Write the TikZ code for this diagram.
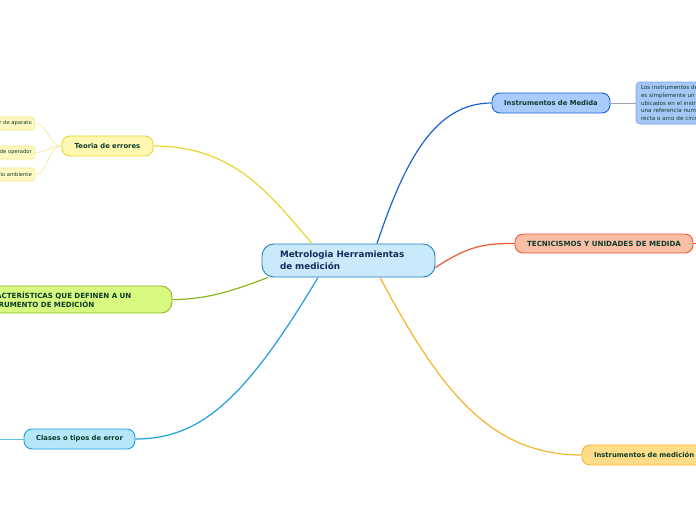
\documentclass[tikz,border=0pt]{standalone}
\usepackage{fontspec}
\setmainfont{DejaVu Sans}
\definecolor{txt}{HTML}{0C3B2A}
\definecolor{ctxt}{HTML}{142A5C}
\definecolor{cfill}{HTML}{C8EAFB}\definecolor{cdraw}{HTML}{2A7FC4}
\definecolor{imfill}{HTML}{A8CCFB}\definecolor{imdraw}{HTML}{1A62D6}
\definecolor{dfill}{HTML}{A6C8F8}\definecolor{ddraw}{HTML}{7BA8EE}
\definecolor{tfill}{HTML}{F9BEA6}\definecolor{tdraw}{HTML}{EE5A30}
\definecolor{ofill}{HTML}{FFDD88}\definecolor{odraw}{HTML}{F5B52A}
\definecolor{yfill}{HTML}{FFF8B0}\definecolor{ydraw}{HTML}{E9D530}
\definecolor{sfill}{HTML}{FFF8C0}\definecolor{sdraw}{HTML}{F6EA8A}
\definecolor{gfill}{HTML}{D8FA80}\definecolor{gdraw}{HTML}{8DB820}
\definecolor{lfill}{HTML}{B5E6FA}\definecolor{ldraw}{HTML}{1E9FDF}
\definecolor{greyline}{HTML}{9AA6B8}
\tikzset{
  topic/.style={draw, line width=0.9pt, rounded corners=8pt, inner sep=0pt, text=txt, font=\fontsize{6.8}{8}\selectfont\bfseries},
  sub/.style={draw=sdraw, fill=sfill, line width=0.6pt, rounded corners=3pt, inner sep=0pt, text=txt, font=\fontsize{5.2}{6}\selectfont},
  conn/.style={line width=1.2pt},
}
\begin{document}
\begin{tikzpicture}[x=1pt,y=-1pt]
\useasboundingbox (0,0) rectangle (696,520);
\clip (0,0) rectangle (696,520);
\fill[white] (0,0) rectangle (696,520);
% nodes
\node[topic, draw=cdraw, fill=cfill, rounded corners=12pt, minimum width=173pt, minimum height=33pt, text=ctxt, font=\fontsize{8.8}{12}\selectfont\bfseries, align=left, text width=137pt] (central) at (348.5,260.5) {Metrologia Herramientas\\de medición};
\node[topic, draw=imdraw, fill=imfill, minimum width=118pt, minimum height=20pt] (imed) at (551,103) {Instrumentos de Medida};
\node[topic, draw=ddraw, fill=dfill, rounded corners=4pt, line width=0.7pt, minimum width=124pt, minimum height=42pt, align=left, text width=114pt, font=\fontsize{5.6}{7.8}\selectfont] (desc) at (698,103) {Los instrumentos de medida\\es simplemente un conjunto de\\ubicados en el instrumento\\una referencia numérica\\recta o arco de círculo};
\node[topic, draw=tdraw, fill=tfill, minimum width=178pt, minimum height=19pt, font=\fontsize{7.1}{8}\selectfont\bfseries] (tec) at (604,243.5) {TECNICISMOS Y UNIDADES DE MEDIDA};
\coordinate (tecout) at (700,243.5);
\node[topic, draw=odraw, fill=ofill, minimum width=140pt, minimum height=20pt, align=left, text width=116pt] (imc) at (652,455) {Instrumentos de medición};
\node[topic, draw=ydraw, fill=yfill, minimum width=91pt, minimum height=20pt] (teo) at (107.5,146) {Teoria de errores};
\node[sub, anchor=east, minimum height=13pt, minimum width=76pt, align=right, text width=70pt] (s1) at (35,123.5) {Error de aparato};
\node[sub, anchor=east, minimum height=13pt, minimum width=76pt, align=right, text width=70pt] (s2) at (35,152.5) {Error de operador};
\node[sub, anchor=east, minimum height=13pt, minimum width=86pt, align=right, text width=80pt] (s3) at (35,174.5) {Error del medio ambiente};
\node[topic, draw=gdraw, fill=gfill, rounded corners=11pt, minimum width=202pt, minimum height=27pt, align=left, text width=182pt, font=\fontsize{7.1}{9}\selectfont\bfseries] (car) at (71,299.5) {CARACTERÍSTICAS QUE DEFINEN A UN\\INSTRUMENTO DE MEDICIÓN};
\node[topic, draw=ldraw, fill=lfill, minimum width=111pt, minimum height=20pt] (cla) at (79.5,439) {Clases o tipos de error};
\coordinate (claout) at (-5,439);
% connectors
\draw[conn, imdraw] ([xshift=28.5pt]central.north) .. controls (405,160) and (435,103) .. (imed.west);
\draw[greyline, line width=0.6pt] (imed.east) -- (desc.west);
\draw[conn, tdraw] ([yshift=-7pt]central.east) .. controls (470,245) and (485,243.5) .. (tec.west);
\draw[tdraw, line width=0.8pt] (tec.east) -- (tecout);
\draw[conn, odraw] ([xshift=31.5pt]central.south) .. controls (440,390) and (490,455) .. (imc.west);
\draw[conn, ydraw] ([xshift=-36.5pt]central.north) .. controls (270,195) and (235,146) .. (teo.east);
\draw[sdraw, line width=0.6pt] (teo.west) .. controls (48,146) and (48,123.5) .. (s1.east);
\draw[sdraw, line width=0.6pt] (teo.west) .. controls (48,146) and (48,152.5) .. (s2.east);
\draw[sdraw, line width=0.6pt] (teo.west) .. controls (48,146) and (48,174.5) .. (s3.east);
\draw[conn, gdraw] ([xshift=-80.5pt]central.south) .. controls (230,292) and (205,299.5) .. (car.east);
\draw[conn, ldraw] ([xshift=-30.5pt]central.south) .. controls (245,400) and (200,439) .. (cla.east);
\draw[ldraw!70, line width=0.6pt] (cla.west) -- (claout);
\end{tikzpicture}
\end{document}
